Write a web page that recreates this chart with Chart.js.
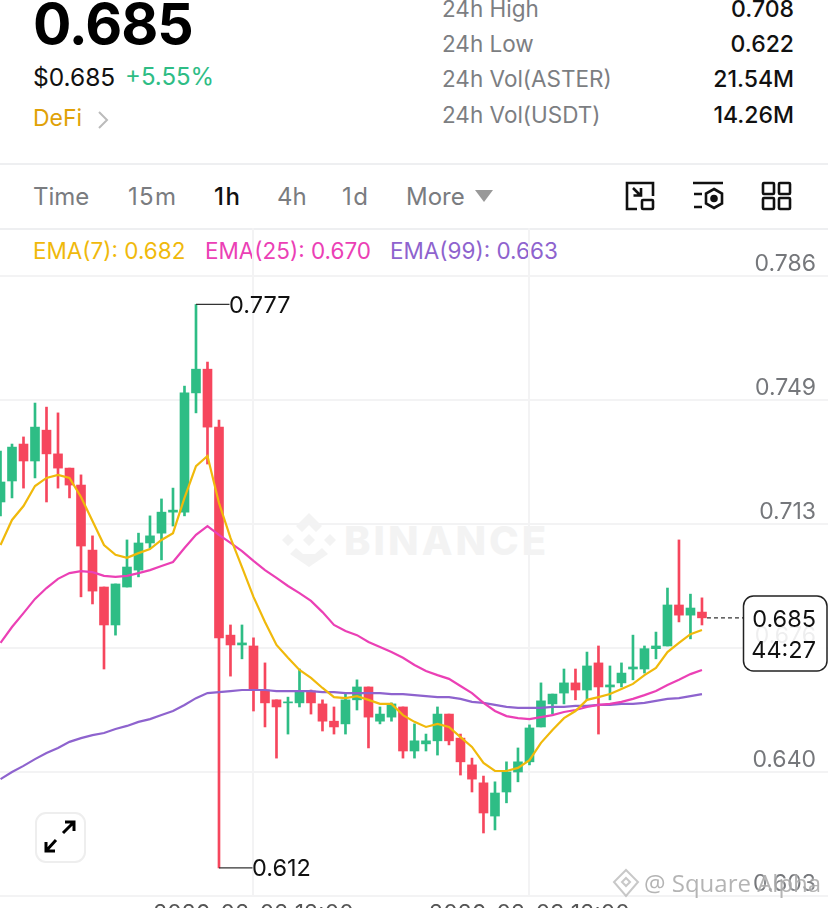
<!DOCTYPE html>
<html><head><meta charset="utf-8">
<script src="https://cdn.jsdelivr.net/npm/chart.js@4"></script>
<style>
html,body{margin:0;padding:0;background:#fff;width:828px;height:908px;overflow:hidden;font-family:Inter,"Noto Sans",sans-serif}
.t{position:absolute;white-space:nowrap;line-height:1}
#c{position:absolute;left:0;top:0;z-index:2}
.hr{position:absolute;left:0;width:828px;height:2px;background:#eeeff1}
.nav{color:#7a7c80;font-size:24px;top:185px}
.lbl{color:#7c7e82;font-size:22.500px;left:442px}
.val{color:#111;font-size:23px;right:34px;font-weight:500}
</style></head><body>
<div class="t" style="left:33px;top:-5px;font-size:57px;font-weight:700;color:#000;letter-spacing:-1px">0.685</div>
<div class="t" style="left:33px;top:65px;font-size:24.500px;color:#111">$0.685</div>
<div class="t" style="left:125px;top:65px;font-size:24px;color:#2ebd85">+5.55%</div>
<div class="t" style="left:33px;top:107px;font-size:23px;color:#e0a106">DeFi</div>
<svg style="position:absolute;left:97px;top:110px" width="12" height="20"><path d="M2 2l8 8-8 8" fill="none" stroke="#bbb" stroke-width="2"/></svg>
<div class="t lbl" style="top:-2px">24h High</div><div class="t val" style="top:-2px">0.708</div>
<div class="t lbl" style="top:33px">24h Low</div><div class="t val" style="top:33px">0.622</div>
<div class="t lbl" style="top:68px">24h Vol(ASTER)</div><div class="t val" style="top:68px">21.54M</div>
<div class="t lbl" style="top:104px">24h Vol(USDT)</div><div class="t val" style="top:104px">14.26M</div>
<div class="hr" style="top:163px"></div>
<div class="t nav" style="left:33px">Time</div>
<div class="t nav" style="left:128px;letter-spacing:1.300px">15m</div>
<div class="t nav" style="left:214px;color:#111;font-weight:500;letter-spacing:1.500px">1h</div>
<div class="t nav" style="left:277px">4h</div>
<div class="t nav" style="left:342px;letter-spacing:1.500px">1d</div>
<div class="t nav" style="left:406px">More</div>
<svg style="position:absolute;left:475px;top:190px" width="18" height="13"><path d="M0 0h18l-9 12z" fill="#999"/></svg>
<svg style="position:absolute;left:624px;top:180px" width="32" height="32" fill="none" stroke="#111" stroke-width="2.600"><path d="M13 29H3V3h26v13M9 8l8 8M9.500 15.500h7.500V8"/><rect x="18" y="20" width="11" height="9" rx="1"/></svg>
<svg style="position:absolute;left:692px;top:180px" width="34" height="32" fill="none" stroke="#111" stroke-width="2.600"><path d="M1 3h30M2 14h8M2 27h8"/><path d="M22 9l8 4.500v10l-8 4.500-8-4.500v-10z"/><circle cx="22" cy="18.500" r="2.500" fill="#111"/></svg>
<svg style="position:absolute;left:761px;top:180px" width="32" height="32" fill="none" stroke="#111" stroke-width="2.600"><rect x="2" y="3" width="11" height="11" rx="1"/><rect x="18" y="3" width="11" height="11" rx="1"/><rect x="2" y="18" width="11" height="11" rx="1"/><rect x="18" y="18" width="11" height="11" rx="1"/></svg>
<div class="hr" style="top:228px"></div>
<div class="t" style="left:33px;top:240px;font-size:22.500px;color:#f0b90b">EMA(7): 0.682</div>
<div class="t" style="left:205px;top:240px;font-size:22.500px;color:#eb40b5">EMA(25): 0.670</div>
<div class="t" style="left:390px;top:240px;font-size:22.500px;color:#8e63ce">EMA(99): 0.663</div>
<svg style="position:absolute;left:282px;top:513px;z-index:1" width="54" height="54" fill="#f3f3f3"><path d="M27 0l13 13-6 6-7-7-7 7-6-6zM6 21l6 6-6 6-6-6zM27 21l6 6-6 6-6-6zM48 21l6 6-6 6-6-6zM14 35l7 6 6 0 6 0 7-6 6 6-19 13-19-13z"/></svg>
<div class="t" style="left:344px;top:521px;font-size:40px;font-weight:800;color:#f3f3f3;letter-spacing:3px;z-index:1">BINANCE</div>
<canvas id="c" width="828" height="908"></canvas>
<div style="position:absolute;left:35px;top:812px;width:47px;height:47px;border:2px solid #eee;border-radius:11px;background:#fff;z-index:3"></div>
<svg style="position:absolute;left:43px;top:820px;z-index:4" width="34" height="34" fill="none" stroke="#000" stroke-width="3"><path d="M20 13l11-11M22 2h9v9M13 20L3 31M3 22v9h9"/></svg>
<div class="t" style="left:644px;top:871px;font-size:24px;color:rgba(140,140,140,.65);z-index:5;text-shadow:0 0 2px #fff;font-family:'Open Sans'">@ Square Alpha</div>
<svg style="position:absolute;left:612px;top:868px;z-index:5" width="28" height="30" fill="none" stroke="rgba(170,170,170,.65)" stroke-width="2"><path d="M14 2l12 12-12 14L2 14z"/><path d="M14 10l4 4-4 4-4-4z"/></svg>
<script>
const highs=[.7343,.7364,.7385,.7485,.7473,.7456,.7293,.7273,.7093,.6942,.6951,.7081,.7101,.7152,.7202,.7234,.7535,.7776,.7606,.7435,.6830,.6830,.6792,.6718,.6609,.6617,.6700,.6638,.6609,.6588,.6626,.6668,.6647,.6588,.6600,.6588,.6538,.6508,.6588,.6567,.6508,.6437,.6384,.6367,.6426,.6467,.6535,.6659,.6626,.6700,.6700,.6750,.6768,.6709,.6718,.6800,.6768,.6809,.6939,.7081,.6921,.6910];
const lows=[.7152,.7205,.7234,.7264,.7193,.7234,.7205,.6913,.6892,.6700,.6800,.6942,.6972,.7057,.7022,.7122,.7152,.7456,.7305,.6113,.6679,.6730,.6576,.6529,.6437,.6508,.6588,.6567,.6517,.6508,.6508,.6579,.6467,.6538,.6546,.6437,.6437,.6458,.6446,.6476,.6387,.6337,.6216,.6225,.6305,.6367,.6417,.6529,.6567,.6597,.6609,.6609,.6508,.6609,.6647,.6668,.6688,.6730,.6768,.6839,.6789,.6830];
const opens=[.7193,.7255,.7364,.7314,.7405,.7335,.7293,.7243,.7051,.6942,.6830,.6942,.6992,.7072,.7101,.7163,.7163,.7515,.7585,.7414,.6800,.6771,.6768,.6638,.6609,.6600,.6600,.6635,.6597,.6546,.6538,.6609,.6647,.6546,.6558,.6588,.6458,.6479,.6488,.6567,.6496,.6417,.6364,.6266,.6337,.6396,.6426,.6529,.6597,.6629,.6659,.6638,.6718,.6647,.6659,.6700,.6700,.6760,.6768,.6889,.6859,.6868];
const closes=[.7252,.7355,.7314,.7414,.7335,.7293,.7243,.7063,.6930,.6830,.6951,.7001,.7072,.7093,.7163,.7169,.7515,.7585,.7414,.6792,.6771,.6777,.6641,.6600,.6588,.6603,.6632,.6600,.6546,.6529,.6609,.6647,.6558,.6567,.6597,.6458,.6488,.6488,.6567,.6488,.6426,.6375,.6275,.6334,.6396,.6426,.6526,.6606,.6626,.6659,.6638,.6709,.6647,.6653,.6688,.6706,.6760,.6768,.6889,.6859,.6880,.6851];
const ema7=[.7066,.7140,.7181,.7240,.7264,.7273,.7264,.7208,.7137,.7066,.7037,.7028,.7042,.7054,.7081,.7101,.7205,.7299,.7329,.7190,.7087,.7001,.6913,.6839,.6771,.6733,.6697,.6674,.6644,.6617,.6614,.6620,.6609,.6597,.6597,.6564,.6544,.6529,.6538,.6529,.6499,.6470,.6423,.6399,.6399,.6408,.6431,.6482,.6520,.6555,.6576,.6609,.6617,.6626,.6641,.6656,.6682,.6703,.6750,.6777,.6803,.6815];
const ema25=[.6777,.6824,.6865,.6907,.6939,.6966,.6983,.6989,.6986,.6975,.6972,.6975,.6983,.6992,.7004,.7016,.7057,.7096,.7122,.7096,.7072,.7048,.7019,.6992,.6969,.6945,.6924,.6901,.6868,.6830,.6812,.6800,.6780,.6765,.6750,.6733,.6712,.6694,.6682,.6671,.6650,.6629,.6600,.6576,.6561,.6555,.6552,.6558,.6564,.6573,.6579,.6588,.6594,.6597,.6603,.6612,.6623,.6635,.6653,.6668,.6685,.6697];
const ema99=[.6375,.6396,.6414,.6434,.6452,.6467,.6485,.6496,.6505,.6511,.6523,.6532,.6544,.6552,.6564,.6576,.6594,.6614,.6629,.6632,.6635,.6638,.6638,.6638,.6635,.6635,.6635,.6635,.6632,.6632,.6629,.6629,.6629,.6629,.6626,.6626,.6623,.6620,.6617,.6617,.6612,.6603,.6600,.6594,.6588,.6585,.6585,.6585,.6588,.6588,.6591,.6591,.6594,.6594,.6597,.6597,.6600,.6606,.6612,.6614,.6620,.6626];
const yTicks=[.786,.7494,.7128,.6762,.6396,.603];
const xTickIndex=[22,46];
const xTickLabels=["2026-02-02 12:00","2026-02-03 12:00"];
const peakIndex=17, peakLabel="0.777", troughIndex=19, troughLabel="0.612";
const lastPrice=.6851, lastLabel="0.685", countdown="44:27";
const UP="#2ebd85", DOWN="#f6465d", GRID="#f3f3f4";
const colors=closes.map((c,i)=>c>=opens[i]?UP:DOWN);
const line=(label,data,color)=>({type:"line",label,data:data.map((y,x)=>({x,y})),borderColor:color,borderWidth:2.2,pointRadius:0,tension:0,order:1,clip:true});
const annot={id:"annot",afterDatasetsDraw(ch){
 const g=ch.ctx,X=ch.scales.x,Y=ch.scales.y;
 g.save();
 g.font='23.500px Inter';g.textBaseline="middle";g.textAlign="left";
 const mark=(i,v,txt)=>{const x=X.getPixelForValue(i),y=Y.getPixelForValue(v),w=X.getPixelForValue(i+3)-x;
  g.strokeStyle="#333";g.lineWidth=1.2;g.beginPath();g.moveTo(x,y);g.lineTo(x+w-1,y);g.stroke();
  g.fillStyle="#111";g.fillText(txt,x+w-1.500,y+1);};
 mark(peakIndex,highs[peakIndex],peakLabel);
 mark(troughIndex,lows[troughIndex],troughLabel);
 const ly=Y.getPixelForValue(lastPrice),lx=X.getPixelForValue(closes.length-1)+5;
 g.strokeStyle="#333";g.lineWidth=1.2;g.setLineDash([4,3]);g.beginPath();g.moveTo(lx,ly);g.lineTo(743,ly);g.stroke();g.setLineDash([]);
 g.fillStyle="rgba(255,255,255,.88)";g.strokeStyle="#222";g.lineWidth=1.5;
 g.beginPath();g.roundRect(743.500,596,83.500,75,10);g.fill();g.stroke();
 g.fillStyle="#111";g.textAlign="right";
 g.fillText(lastLabel,816,620);g.fillText(countdown,816,651);
 g.restore();
}};
new Chart(document.getElementById("c"),{
 type:"bar",
 data:{datasets:[
  line("EMA(7)",ema7,"#f0b90b"),
  line("EMA(25)",ema25,"#eb40b5"),
  line("EMA(99)",ema99,"#8e63ce"),
  {label:"body",data:opens.map((o,x)=>({x,y:[o,closes[x]]})),backgroundColor:colors,barThickness:9,grouped:false,order:2,borderSkipped:false},
  {label:"wick",data:lows.map((l,x)=>({x,y:[l,highs[x]]})),backgroundColor:colors,barThickness:2,grouped:false,order:3,borderSkipped:false}
 ]},
 options:{responsive:false,animation:false,devicePixelRatio:1,
  layout:{padding:{top:228,left:0,right:0,bottom:0}},
  plugins:{legend:{display:false},tooltip:{enabled:false}},
  scales:{
   x:{type:"linear",offset:false,min:-.0435,max:71.96,
    afterBuildTicks(s){s.ticks=xTickIndex.map(value=>({value}))},
    afterFit(s){s.height=12;s.paddingLeft=0;s.paddingRight=0},
    grid:{color:GRID,lineWidth:2,drawTicks:false,offset:false},border:{display:true,color:GRID,width:2},
    ticks:{autoSkip:false,maxRotation:0,padding:4,color:"#555",font:{size:23,family:"Inter"},callback:(v)=>xTickLabels[xTickIndex.indexOf(v)]}},
   y:{type:"linear",position:"right",min:.603,max:.80017,
    afterBuildTicks(s){s.ticks=yTicks.map(value=>({value}))},
    afterFit(s){s.width=0;s.paddingTop=0;s.paddingBottom=0},
    grid:{color:GRID,lineWidth:2,drawTicks:false},border:{display:false},
    ticks:{mirror:true,padding:-12,labelOffset:-12,color:"#75777b",font:{size:23,family:"Inter"},callback:v=>v.toFixed(3)}}
  }},
 plugins:[annot]
});
</script>
</body></html>
